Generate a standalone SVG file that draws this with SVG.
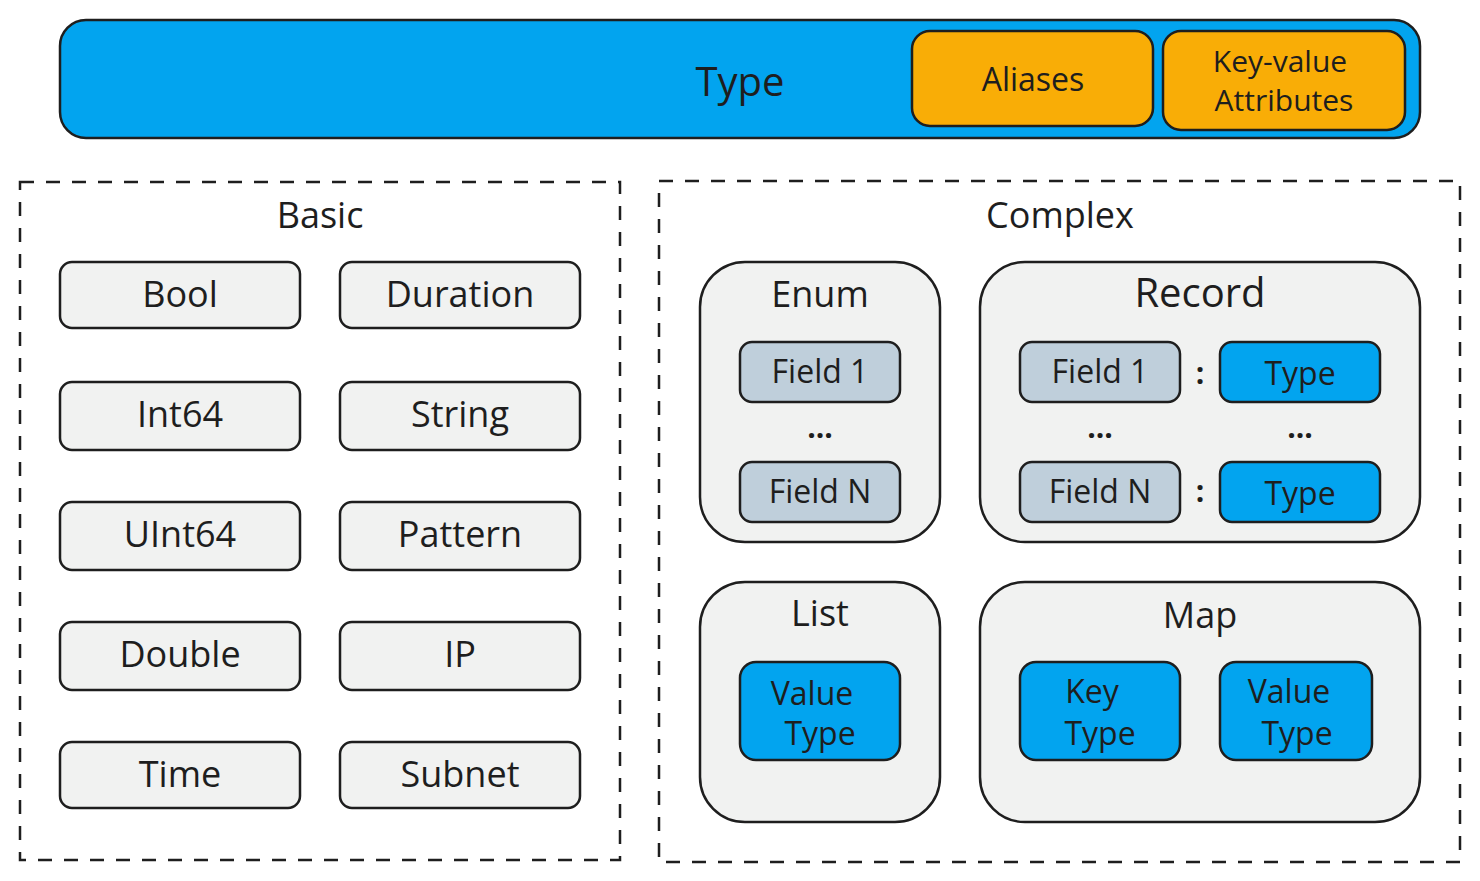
<svg xmlns="http://www.w3.org/2000/svg" width="1480" height="881" viewBox="0 0 1480 881">
<style>
text{font-family:"Open Sans","Liberation Sans",sans-serif;fill:#1e1e1e;text-anchor:middle;dominant-baseline:central}
.blue{fill:#02a4ef;stroke:#1e1e1e;stroke-width:2.5}
.orange{fill:#f9ad06;stroke:#1e1e1e;stroke-width:2.5}
.gray{fill:#f1f2f1;stroke:#1e1e1e;stroke-width:2.5}
.field{fill:#bfcfdb;stroke:#1e1e1e;stroke-width:2.5}
.dash{fill:none;stroke:#1e1e1e;stroke-width:2.5;stroke-dasharray:14 12}
.t40{font-size:40px}
.t36{font-size:36px}
.t32{font-size:32px}
.t30{font-size:30px}
.dots{font-size:30px;font-weight:bold}
</style>
<rect width="1480" height="881" fill="#ffffff"/>
<g id="type-bar">
<rect class="blue" x="60" y="20" width="1360" height="118" rx="26"/>
<text class="t40" x="740" y="80">Type</text>
</g>
<g id="aliases">
<rect class="orange" x="912" y="31" width="241" height="95" rx="18"/>
<text class="t32" x="1033" y="78">Aliases</text>
</g>
<g id="kv-attributes">
<rect class="orange" x="1163" y="31" width="242" height="99" rx="18"/>
<text class="t30" x="1280" y="60">Key-value</text>
<text class="t30" x="1284" y="99">Attributes</text>
</g>
<g id="basic">
<rect class="dash" x="20" y="182" width="600" height="678"/>
<text class="t36" x="320" y="214">Basic</text>
</g>
<g id="bool"><rect class="gray" x="60" y="262" width="240" height="66" rx="12"/><text class="t36" x="180" y="293">Bool</text></g>
<g id="duration"><rect class="gray" x="340" y="262" width="240" height="66" rx="12"/><text class="t36" x="460" y="293">Duration</text></g>
<g id="int64"><rect class="gray" x="60" y="382" width="240" height="68" rx="12"/><text class="t36" x="180" y="413">Int64</text></g>
<g id="string"><rect class="gray" x="340" y="382" width="240" height="68" rx="12"/><text class="t36" x="460" y="413">String</text></g>
<g id="uint64"><rect class="gray" x="60" y="502" width="240" height="68" rx="12"/><text class="t36" x="180" y="533">UInt64</text></g>
<g id="pattern"><rect class="gray" x="340" y="502" width="240" height="68" rx="12"/><text class="t36" x="460" y="533">Pattern</text></g>
<g id="double"><rect class="gray" x="60" y="622" width="240" height="68" rx="12"/><text class="t36" x="180" y="653">Double</text></g>
<g id="ip"><rect class="gray" x="340" y="622" width="240" height="68" rx="12"/><text class="t36" x="460" y="653">IP</text></g>
<g id="time"><rect class="gray" x="60" y="742" width="240" height="66" rx="12"/><text class="t36" x="180" y="773">Time</text></g>
<g id="subnet"><rect class="gray" x="340" y="742" width="240" height="66" rx="12"/><text class="t36" x="460" y="773">Subnet</text></g>
<g id="complex">
<rect class="dash" x="659" y="181" width="801" height="681"/>
<text class="t36" x="1060" y="214">Complex</text>
</g>
<g id="enum">
<rect class="gray" x="700" y="262" width="240" height="280" rx="45"/>
<text class="t36" x="820" y="293">Enum</text>
<rect class="field" x="740" y="342" width="160" height="60" rx="12"/>
<text class="t32" x="820" y="370">Field 1</text>
<text class="dots" x="820" y="426">...</text>
<rect class="field" x="740" y="462" width="160" height="60" rx="12"/>
<text class="t32" x="820" y="490">Field N</text>
</g>
<g id="record">
<rect class="gray" x="980" y="262" width="440" height="280" rx="45"/>
<text class="t40" x="1200" y="291">Record</text>
<rect class="field" x="1020" y="342" width="160" height="60" rx="12"/>
<text class="t32" x="1100" y="370">Field 1</text>
<text class="dots" x="1200" y="372">:</text>
<rect class="blue" x="1220" y="342" width="160" height="60" rx="12"/>
<text class="t32" x="1300" y="372">Type</text>
<text class="dots" x="1100" y="426">...</text>
<text class="dots" x="1300" y="426">...</text>
<rect class="field" x="1020" y="462" width="160" height="60" rx="12"/>
<text class="t32" x="1100" y="490">Field N</text>
<text class="dots" x="1200" y="490">:</text>
<rect class="blue" x="1220" y="462" width="160" height="60" rx="12"/>
<text class="t32" x="1300" y="492">Type</text>
</g>
<g id="list">
<rect class="gray" x="700" y="582" width="240" height="240" rx="45"/>
<text class="t36" x="820" y="612">List</text>
<rect class="blue" x="740" y="662" width="160" height="98" rx="16"/>
<text class="t32" x="812" y="692">Value</text>
<text class="t32" x="820" y="732">Type</text>
</g>
<g id="map">
<rect class="gray" x="980" y="582" width="440" height="240" rx="45"/>
<text class="t36" x="1200" y="614">Map</text>
<rect class="blue" x="1020" y="662" width="160" height="98" rx="16"/>
<text class="t32" x="1092" y="690">Key</text>
<text class="t32" x="1100" y="732">Type</text>
<rect class="blue" x="1220" y="662" width="152" height="98" rx="16"/>
<text class="t32" x="1289" y="690">Value</text>
<text class="t32" x="1297" y="732">Type</text>
</g>
<g id="connectors"></g>
</svg>
